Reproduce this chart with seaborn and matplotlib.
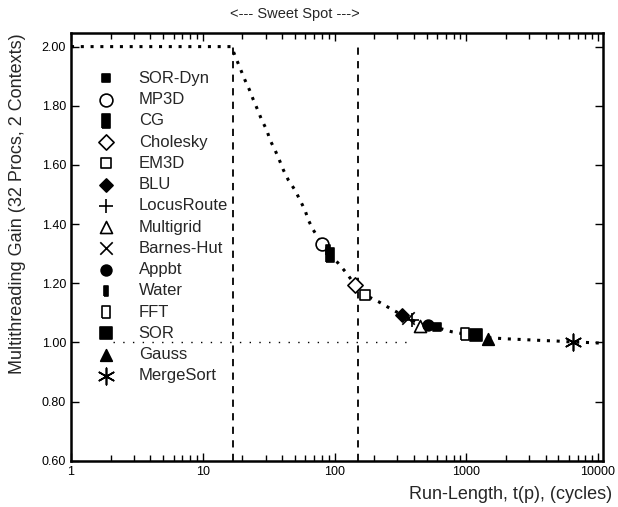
import matplotlib
matplotlib.use('Agg')
from matplotlib import pyplot as plt
from matplotlib import ticker
import seaborn as sns
import pandas as pd

sns.set_style('ticks')
plt.rcParams['font.family'] = ['Liberation Sans', 'DejaVu Sans']

# benchmark points
benchmarks = ['SOR-Dyn', 'MP3D', 'CG', 'Cholesky', 'EM3D', 'BLU', 'LocusRoute',
              'Multigrid', 'Barnes-Hut', 'Appbt', 'Water', 'FFT', 'SOR', 'Gauss',
              'MergeSort']
run_length = [600, 80.4, 92.4, 143, 171, 325, 387, 445, 361, 515, 89.3, 980,
              1186, 1463, 6460]
gain = [1.052, 1.333, 1.296, 1.194, 1.160, 1.093, 1.076, 1.055, 1.083, 1.058,
        1.313, 1.028, 1.025, 1.012, 1.000]

# model curve
curve_t = [1, 16.5, 18.1, 19.2, 20.9, 22.6, 24.2, 26.1, 28.0, 30.6, 32.4, 35.3,
           38.1, 40.9, 44.6, 50.1, 54.7, 59.7, 63.2, 69.0, 80, 92, 107, 124, 143,
           171, 215, 264, 325, 387, 445, 520, 600, 775, 980, 1186, 1463, 2028,
           2560, 3200, 3960, 4700, 5570, 6460, 7970, 10000, 11000]
curve_gain = [2.0, 2.0, 1.955, 1.927, 1.887, 1.854, 1.820, 1.786, 1.752, 1.718,
              1.684, 1.651, 1.617, 1.583, 1.549, 1.515, 1.481, 1.447, 1.414, 1.380,
              1.335, 1.298, 1.267, 1.233, 1.194, 1.160, 1.138, 1.115, 1.093, 1.076,
              1.062, 1.055, 1.050, 1.036, 1.028, 1.022, 1.016, 1.012, 1.010, 1.008,
              1.006, 1.005, 1.003, 1.001, 1.000, 0.998, 0.997]

sweet_spot = [17, 150]

# marker style per benchmark: (marker, size, filled)
tall = [(-0.3, -0.5), (0.3, -0.5), (0.3, 0.5), (-0.3, 0.5), (-0.3, -0.5)]
thin = [(-0.2, -0.5), (0.2, -0.5), (0.2, 0.5), (-0.2, 0.5), (-0.2, -0.5)]
styles = {
    'SOR-Dyn': ('s', 30, True),
    'MP3D': ('o', 85, False),
    'CG': (tall, 110, True),
    'Cholesky': ('D', 60, False),
    'EM3D': ('s', 60, False),
    'BLU': ('D', 45, True),
    'LocusRoute': ('+', 110, None),
    'Multigrid': ('^', 75, False),
    'Barnes-Hut': ('x', 80, None),
    'Appbt': ('o', 60, True),
    'Water': (thin, 55, True),
    'FFT': (tall, 75, False),
    'SOR': ('s', 75, True),
    'Gauss': ('^', 70, True),
    'MergeSort': ((6, 2, 0), 140, None),
}

df = pd.DataFrame({'bench': benchmarks, 't': run_length, 'gain': gain})
curve = pd.DataFrame({'t': curve_t, 'gain': curve_gain})

fig = plt.figure(figsize=(6.18, 5.07), dpi=100)
ax = fig.add_axes([0.1149, 0.0913, 0.8608, 0.8436])

ax.hlines(1.0, 2.1, 380, colors='k', linestyles=(0, (1, 6)), linewidth=1)
for x in sweet_spot:
    ax.axvline(x, ymin=0, ymax=0.975, color='k', linestyle=(0, (4, 3.5)), linewidth=1.3)

sns.lineplot(data=curve, x='t', y='gain', ax=ax, color='k', estimator=None,
             linewidth=2.2, linestyle=(0, (1, 2.2)), legend=False)

for b in benchmarks:
    m, s, filled = styles[b]
    sub = df[df['bench'] == b]
    if filled is None:
        sns.scatterplot(data=sub, x='t', y='gain', ax=ax, marker=m, s=s,
                        color='k', linewidth=1.2, label=b, zorder=5)
    else:
        sns.scatterplot(data=sub, x='t', y='gain', ax=ax, marker=m, s=s,
                        facecolor='k' if filled else 'white', edgecolor='k',
                        linewidth=1.2, label=b, zorder=5)

ax.set_xscale('log')
ax.set_xlim(1, 10900)
ax.set_ylim(0.6, 2.046)
ax.set_xticks([1, 10, 100, 1000, 10000])
ax.xaxis.set_major_formatter(ticker.FuncFormatter(lambda v, p: f'{int(v)}'))
ax.set_yticks([0.6, 0.8, 1.0, 1.2, 1.4, 1.6, 1.8, 2.0])
ax.yaxis.set_major_formatter(ticker.FormatStrFormatter('%.2f'))
ax.tick_params(which='both', direction='in', top=True, right=True, labelsize=9,
               width=1, colors='k')
ax.tick_params(which='major', length=6)
ax.tick_params(which='minor', length=4)
for sp in ax.spines.values():
    sp.set_linewidth(1.8)
    sp.set_color('k')

ax.set_xlabel('Run-Length, t(p), (cycles)', fontsize=13, ha='right')
ax.xaxis.set_label_coords(1.017, -0.058)
ax.set_ylabel('Multithreading Gain (32 Procs, 2 Contexts)', fontsize=13)
ax.yaxis.set_label_coords(-0.085, 0.6)

ax.text(50, 1.044, '<--- Sweet Spot --->', transform=ax.get_xaxis_transform(),
        ha='center', va='center', fontsize=10.5)

handles, labels = ax.get_legend_handles_labels()
ax.legend(handles, labels, loc='upper left', bbox_to_anchor=(0.016, 0.935),
          frameon=False, fontsize=12, labelspacing=0.375, handletextpad=0.95,
          scatterpoints=1, borderaxespad=0.2)

fig.savefig('out.png', dpi=100)
